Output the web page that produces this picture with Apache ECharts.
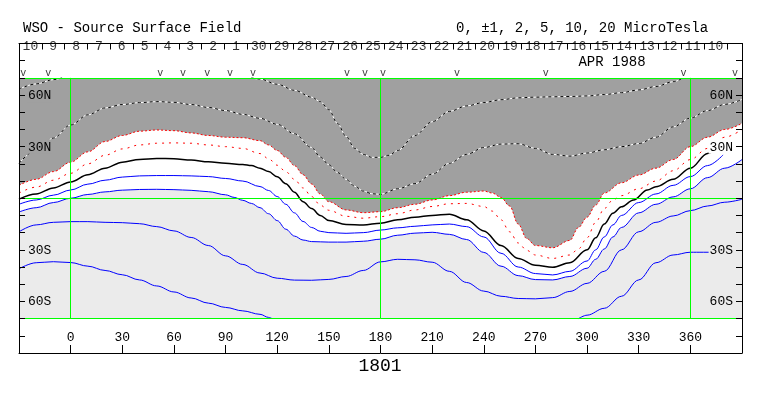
<!DOCTYPE html>
<html><head><meta charset="utf-8">
<script src="https://cdn.jsdelivr.net/npm/echarts@6/dist/echarts.min.js"></script>
<style>html,body{margin:0;padding:0;background:#fff}#c{width:763px;height:396px}</style>
</head><body><div id="c"></div>
<script>
// ---- data (Carrington longitude, latitude) ----
const pos10 = [[-30,63.5],[-20,66.5],[-10,69],[-5,70],[0,null],[105,70],[110,69.3],[120,66.3],[130,62.8],[140,58.8],[145,56.2],[150,51.5],[155,43.5],[160,36],[165,29],[170,25.5],[175,23.8],[180,23.8],[185,25],[190,27.8],[200,36.5],[210,44.5],[220,50.5],[230,53.7],[240,55.7],[250,57.3],[260,58.4],[270,58.8],[280,59],[290,59.2],[300,59.5],[310,60.3],[320,61.4],[330,63],[340,65],[350,67.8],[356,70]];
const pos5 = [[-30,20.3],[-20,28],[-10,35],[0,42.6],[10,48.5],[20,52.5],[30,54.5],[40,55.6],[50,56.2],[60,55.8],[70,54.5],[80,52.8],[90,51],[100,48.8],[110,46.5],[120,43],[130,37.5],[140,29.5],[145,24],[150,19.5],[155,15],[160,11],[165,7],[170,4.2],[175,2.6],[180,2.3],[190,5.5],[200,8.5],[210,14],[220,20.3],[230,25.5],[240,29.5],[250,31.5],[260,31.7],[270,29],[280,25.5],[290,24.5],[300,26.3],[310,28.2],[320,30],[330,31.8],[340,35.5],[350,41.5],[360,46.6],[370,51],[380,54.6],[390,57.5]];
const pos2 = [[-30,7.5],[-20,11],[-10,15.5],[0,21],[10,27],[20,33],[30,36.5],[40,39],[50,39.7],[60,39.3],[70,38],[80,36.5],[90,35.5],[100,35.2],[110,33.5],[115,31],[120,27.8],[125,23.8],[130,19],[135,13.7],[140,8.3],[145,2.5],[150,-2],[160,-6.8],[170,-8.4],[180,-7.8],[190,-5.5],[200,-3.5],[210,-1],[220,1.5],[230,3.5],[240,4.2],[245,3],[250,0.5],[255,-4.5],[260,-15],[265,-23.5],[270,-27.5],[280,-28.8],[290,-24.5],[295,-17],[300,-11],[305,-4],[310,3],[320,9],[330,13.5],[340,17.5],[350,22.5],[360,30],[370,35.5],[380,40],[390,43.6]];
const pos1 = [[-30,3],[-20,6.5],[-10,10.5],[0,14.5],[10,20],[20,25],[30,28.7],[40,31],[50,32],[60,32.2],[70,32],[80,31],[90,30],[100,29],[110,26],[115,23],[120,19.2],[125,15.5],[130,11],[135,6],[140,1],[145,-4],[150,-7],[160,-10.5],[170,-11.6],[180,-10.7],[190,-9],[200,-6.8],[210,-4.8],[220,-3.2],[230,-3],[240,-4.8],[245,-7.5],[250,-12.5],[255,-19.5],[260,-26],[265,-30.3],[270,-33],[280,-35],[290,-33],[295,-29.5],[300,-23],[305,-14],[310,-6],[315,-1],[320,1.5],[330,5.5],[340,10],[350,16],[360,22.5],[370,29],[380,35.5],[390,40]];
const zero = [[-30,-0.5],[-20,2.5],[-10,6],[0,9.5],[10,13.7],[20,17.5],[30,21],[40,22.6],[50,23.1],[60,23],[70,22.2],[80,21.2],[90,20.3],[100,19.6],[105,19],[110,17.5],[115,15.5],[120,12.5],[125,8.5],[130,3.5],[135,-2],[140,-6],[145,-10],[150,-13],[160,-15.2],[170,-15.5],[180,-14.5],[190,-12.5],[200,-11],[210,-10],[220,-9.3],[230,-12.5],[240,-19],[250,-27.5],[260,-35],[270,-39],[280,-40.2],[290,-37.5],[300,-30],[305,-23],[310,-15],[315,-8.7],[320,-5],[327,-1],[335,4.8],[340,6.7],[350,11],[360,17.5],[370,26],[378,31.5]];
const neg1 = [[-30,-3.5],[-20,-1],[-10,1.8],[0,4.8],[10,8.2],[20,10.5],[30,12.3],[40,13],[50,13.2],[60,13.2],[70,13],[80,12.6],[90,11.5],[100,10],[110,6.8],[115,4.5],[120,1],[125,-3.5],[130,-8.5],[135,-13.5],[140,-17],[145,-19.2],[150,-20],[160,-20.4],[170,-20],[180,-18.5],[190,-17.2],[200,-16.3],[210,-15.5],[220,-15],[230,-16.5],[240,-22.5],[250,-32],[260,-40],[270,-43.8],[280,-44.6],[290,-42.5],[300,-36.5],[305,-30],[310,-22.5],[315,-15.5],[320,-10],[330,-2.5],[340,2.5],[350,7.5],[360,12.6],[370,19],[379,25.2]];
const neg2 = [[-30,-8],[-20,-5.5],[-10,-2.5],[0,0],[10,2.2],[20,3.7],[30,4.7],[40,5.1],[50,5.2],[60,5],[70,4.6],[80,3.8],[90,2],[95,0.5],[100,-1.2],[105,-3],[110,-5.5],[115,-9],[120,-13],[125,-18],[130,-22],[135,-24.3],[140,-25.2],[150,-25.5],[160,-25.5],[170,-25],[180,-23.8],[190,-21.5],[200,-20.3],[210,-19.8],[220,-21],[230,-24],[240,-31.5],[250,-39.5],[260,-45],[270,-47.3],[280,-47.5],[290,-45.5],[300,-40.7],[305,-35.5],[310,-29.5],[315,-22.5],[320,-17],[330,-8.5],[340,-3.5],[350,0.8],[360,5.5],[370,12],[380,17.5],[390,22.5]];
const neg5 = [[-30,-19.5],[-20,-15.5],[-10,-14],[0,-13.6],[10,-13.6],[20,-14],[30,-14.2],[40,-14.8],[50,-16.5],[60,-19],[70,-22.8],[80,-27.5],[90,-33.5],[100,-38.5],[110,-43.5],[120,-46.5],[130,-47.6],[140,-47.7],[150,-47.2],[160,-45.5],[170,-42],[180,-37],[190,-35.5],[200,-35.8],[210,-37.2],[220,-42.5],[230,-49],[240,-54],[250,-57],[260,-58.3],[270,-58.5],[280,-57.8],[290,-54.2],[300,-49.5],[310,-42.5],[320,-30],[330,-19.5],[340,-14],[350,-10.3],[360,-7.2],[370,-4.5],[380,-2.3],[390,-0.6]];
const neg10 = [[-30,-41],[-20,-37.5],[-10,-36.9],[0,-37.4],[10,-39.5],[20,-42],[30,-44.5],[40,-47.5],[50,-51],[60,-54.5],[70,-58],[80,-61],[90,-63.5],[100,-65.5],[110,-67.5],[115,-69.3],[117,-70],[200,null],[295,-70],[300,-68],[310,-64],[320,-57],[330,-47.5],[340,-37.5],[350,-33],[360,-31.4],[385,-31.4]];

const dayLabels = ['10','9','8','7','6','5','4','3','2','1','30','29','28','27','26','25','24','23','22','21','20','19','18','17','16','15','14','13','12','11','10'];
const obsLons = [-27.5,-13,52,65.3,79.3,92.6,106,160.6,171,181.5,224.4,276,356,386];
const gridLons = [0,180,360];
const gridLats = [-70,0,70];
const latTickVals = [60,30,-30,-60];
const latTickText = ['60N','30N','30S','60S'];
const lonTickLabels = [0,30,60,90,120,150,180,210,240,270,300,330,360];
const DAY_SPAN = 31.66;

const FONT = "'Liberation Mono','DejaVu Sans Mono',monospace";
const DARK = '#a0a0a0', LIGHT = '#ebebeb', GREEN = '#00ff00';

function latLabel(bgList){
  return function(v){
    const i = latTickVals.indexOf(v);
    if (i < 0) return '';
    return '{' + bgList[i] + '|' + latTickText[i] + '}';
  };
}
const richBase = {fontFamily: FONT, fontSize: 13, color: '#000', padding: [1,1,0,1]};
const rich = {
  d: Object.assign({backgroundColor: DARK}, richBase),
  l: Object.assign({backgroundColor: LIGHT}, richBase),
  w: Object.assign({backgroundColor: '#fff'}, richBase)
};

const SM = {smooth: 0.35, smoothMonotone: 'x', showSymbol: false, symbol: 'none', silent: true, connectNulls: false, xAxisIndex: 0, yAxisIndex: 0};
function contour(data, color, width, type){
  return Object.assign({type: 'line', data: data, lineStyle: {color: color, width: width, type: type}}, SM);
}

const gridMarks = [];
gridLons.forEach(l => gridMarks.push([{coord: [l, gridLats[0]]}, {coord: [l, gridLats[2]]}]));
gridLats.forEach(b => gridMarks.push([{coord: [-30, b]}, {coord: [390, b]}]));

const series = [
  Object.assign({type: 'line', data: pos2, lineStyle: {opacity: 0, width: 0}, areaStyle: {color: DARK, opacity: 1, origin: 70}}, SM),
  Object.assign({type: 'line', data: neg2, lineStyle: {opacity: 0, width: 0}, areaStyle: {color: LIGHT, opacity: 1, origin: -70}}, SM),
  Object.assign({type: 'line', data: pos2, lineStyle: {opacity: 0, width: 0},
    markLine: {silent: true, symbol: ['none','none'], animation: false, label: {show: false},
      lineStyle: {color: GREEN, width: 1, type: 'solid'}, data: gridMarks}}, SM),
  contour(pos10, '#ffffff', 1, 'solid'),
  contour(pos10, '#000000', 1, [3,3]),
  contour(pos5, '#ffffff', 1, 'solid'),
  contour(pos5, '#000000', 1, [3,3]),
  contour(pos2, '#ff0000', 1, [2,2]),
  contour(pos1, '#ff0000', 1, [2,5]),
  contour(zero, '#000000', 1.5, 'solid'),
  contour(neg1, '#0000ff', 1, 'solid'),
  contour(neg2, '#0000ff', 1, 'solid'),
  contour(neg5, '#0000ff', 1, 'solid'),
  contour(neg10, '#0000ff', 1, 'solid'),
  {type: 'scatter', xAxisIndex: 1, yAxisIndex: 0, silent: true, symbolSize: 1,
    itemStyle: {color: 'rgba(0,0,0,0)'},
    data: dayLabels.map((t, i) => ({value: [i + 0.5, 88], name: t})),
    label: {show: true, position: 'inside', formatter: p => p.name, color: '#000', fontFamily: FONT, fontSize: 13}},
  {type: 'scatter', xAxisIndex: 0, yAxisIndex: 0, silent: true, symbolSize: 1,
    itemStyle: {color: 'rgba(0,0,0,0)'},
    data: obsLons.map(l => [l, 72.6]),
    label: {show: true, position: 'inside', formatter: 'v', color: '#000', fontFamily: FONT, fontSize: 10}}
];

const axisLineBlack = {show: true, onZero: false, lineStyle: {color: '#000', width: 1}};
const option = {
  animation: false,
  backgroundColor: '#fff',
  grid: {left: 19, top: 43.5, width: 723, height: 309.5, containLabel: false},
  xAxis: [
    {type: 'value', position: 'bottom', min: -30, max: 390, interval: 30,
      axisLine: axisLineBlack, splitLine: {show: false},
      axisTick: {show: true, inside: true, length: 8, lineStyle: {color: '#000'}},
      axisLabel: {inside: true, margin: 9, color: '#000', fontFamily: FONT, fontSize: 13,
        formatter: v => lonTickLabels.indexOf(v) >= 0 ? String(v) : ''}},
    {type: 'value', position: 'top', min: 0, max: DAY_SPAN, interval: 1,
      axisLine: axisLineBlack, splitLine: {show: false},
      axisTick: {show: true, inside: true, length: 6, lineStyle: {color: '#000'}},
      axisLabel: {show: false}}
  ],
  yAxis: [
    {type: 'value', position: 'left', min: -90, max: 90, interval: 10, z: 10,
      axisLine: axisLineBlack, splitLine: {show: false},
      axisTick: {show: true, inside: true, length: 6, lineStyle: {color: '#000'}},
      axisLabel: {inside: true, margin: 8, formatter: latLabel(['d','d','l','l']), rich: rich}},
    {type: 'value', position: 'right', min: -90, max: 90, interval: 10, z: 10,
      axisLine: axisLineBlack, splitLine: {show: false},
      axisTick: {show: true, inside: true, length: 6, lineStyle: {color: '#000'}},
      axisLabel: {inside: true, margin: 8, formatter: latLabel(['d','w','l','l']), rich: rich}}
  ],
  graphic: [
    {type: 'text', x: 23, y: 28, silent: true, style: {text: 'WSO - Source Surface Field', font: '14px ' + FONT, fill: '#000', align: 'left', verticalAlign: 'middle', textAlign: 'left', textVerticalAlign: 'middle'}},
    {type: 'text', x: 456, y: 28, silent: true, style: {text: '0, \u00b11, 2, 5, 10, 20 MicroTesla', font: '14px ' + FONT, fill: '#000', align: 'left', verticalAlign: 'middle', textAlign: 'left', textVerticalAlign: 'middle'}},
    {type: 'text', x: 612, y: 62, silent: true, z: 20, style: {text: 'APR 1988', font: '14px ' + FONT, fill: '#000', align: 'center', verticalAlign: 'middle', textAlign: 'center', textVerticalAlign: 'middle'}},
    {type: 'text', x: 380, y: 366, silent: true, style: {text: '1801', font: '18px ' + FONT, fill: '#000', align: 'center', verticalAlign: 'middle', textAlign: 'center', textVerticalAlign: 'middle'}}
  ],
  series: series
};
const chart = echarts.init(document.getElementById('c'), null, {renderer: 'canvas'});
chart.setOption(option);
</script></body></html>
